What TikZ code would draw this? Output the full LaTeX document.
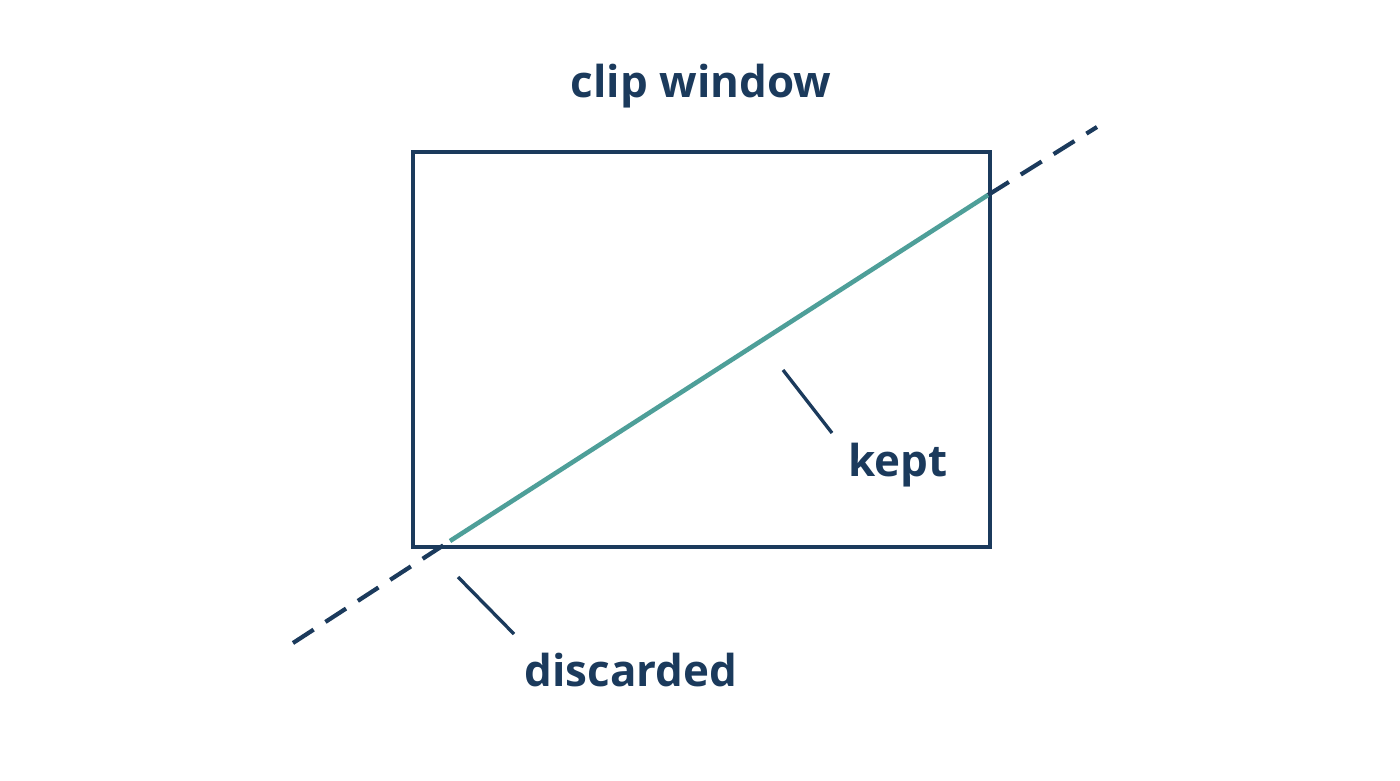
\documentclass[tikz,border=0pt]{standalone}
\usepackage{fontspec}
\setmainfont{Open Sans}
\definecolor{navy}{HTML}{1B3A5C}
\definecolor{teal2}{HTML}{4E9F99}
\begin{document}
\begin{tikzpicture}[x=0.02cm,y=-0.02cm,
  lbl/.style={text=navy,font=\fontsize{25}{30}\selectfont\bfseries},
  edge/.style={navy,line width=2.4pt},
  lead/.style={navy,line width=1.9pt}]
\useasboundingbox (0,0) rectangle (1400,781);
\node[draw=navy,line width=2.4pt,minimum width=577*0.02cm,minimum height=395*0.02cm,inner sep=0,anchor=north west] (win) at (411,150) {};
\coordinate (a) at (293,643);
\coordinate (b) at (1097,127);
\coordinate (p) at (450,541);
\coordinate (q) at (988,195);
\draw[edge,dash pattern=on 14pt off 8pt] (a) -- (p);
\draw[edge,dash pattern=on 14pt off 8pt] (q) -- (b);
\draw[teal2,line width=2.6pt] (p) -- (q);
\node[lbl] (title) at (701,86) {clip window};
\node[lbl] (kept) at (898,465) {kept};
\node[lbl] (disc) at (631,670) {discarded};
\coordinate (k1) at (783,370); \coordinate (k2) at (832,433);
\coordinate (d1) at (458,577); \coordinate (d2) at (514,634);
\draw[lead] (k1) -- (k2);
\draw[lead] (d1) -- (d2);
\end{tikzpicture}
\end{document}
